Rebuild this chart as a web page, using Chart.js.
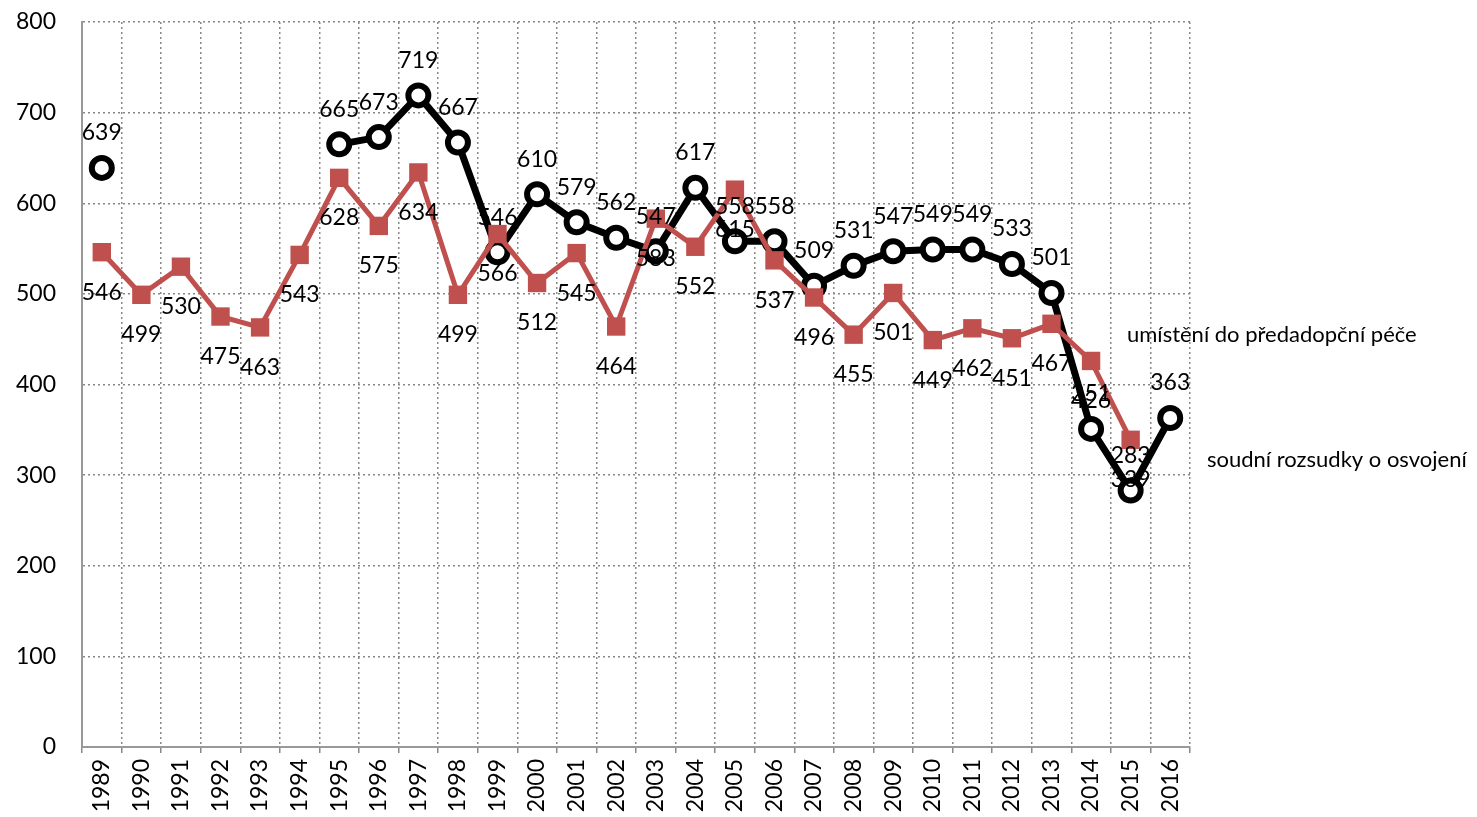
<!DOCTYPE html>
<html>
<head>
<meta charset="utf-8">
<script src="https://cdn.jsdelivr.net/npm/chart.js@4.4.0/dist/chart.umd.min.js"></script>
<style>
  html, body { margin: 0; padding: 0; background: #fff; }
  #wrap { width: 1477px; height: 817px; }
</style>
</head>
<body>
<div id="wrap"><canvas id="lineChart"></canvas></div>
<script>
const years = ['1989', '1990', '1991', '1992', '1993', '1994', '1995', '1996', '1997', '1998', '1999', '2000', '2001', '2002',
  '2003', '2004', '2005', '2006', '2007', '2008', '2009', '2010', '2011', '2012', '2013', '2014', '2015', '2016'];

// soudní rozsudky o osvojení (černá)
const rozsudky = [639, null, null, null, null, null, 665, 673, 719, 667, 546, 610, 579, 562,
  547, 617, 558, 558, 509, 531, 547, 549, 549, 533, 501, 351, 283, 363];

// umístění do předadopční péče (červená)
const umisteni = [546, 499, 530, 475, 463, 543, 628, 575, 634, 499, 566, 512, 545, 464,
  583, 552, 615, 537, 496, 455, 501, 449, 462, 451, 467, 426, 339, null];

const yTicks = [0, 100, 200, 300, 400, 500, 600, 700, 800];

const fontFamily = "'Lato', 'Open Sans', sans-serif";

// popisky hodnot + názvy řad
const labelsPlugin = {
  id: 'hodnoty',
  afterDatasetsDraw(chart) {
    const c = chart.ctx;
    c.save();
    c.font = '23px ' + fontFamily;
    c.fillStyle = '#000';
    c.textAlign = 'center';
    c.textBaseline = 'middle';
    chart.data.datasets.forEach((ds, i) => {
      const meta = chart.getDatasetMeta(i);
      meta.data.forEach((pt, j) => {
        const v = ds.data[j];
        if (v === null) return;
        const dy = ds.labelPos === 'above' ? -35 : 40;
        c.fillText(v, pt.x, pt.y + dy);
      });
    });
    c.textAlign = 'left';
    c.font = '22px ' + fontFamily;
    c.fillText('umístění do předadopční péče', 1127, 335);
    c.fillText('soudní rozsudky o osvojení', 1207, 460);
    c.restore();
  }
};

const ctx = document.getElementById('lineChart');

new Chart(ctx, {
  type: 'line',
  data: {
    labels: years,
    datasets: [{
      label: 'umístění do předadopční péče',
      data: umisteni,
      labelPos: 'below',
      borderColor: '#C0504D',
      backgroundColor: '#C0504D',
      borderWidth: 5,
      pointStyle: 'rect',
      pointRadius: 13,
      pointBorderWidth: 0,
      pointBackgroundColor: '#C0504D',
      tension: 0,
      spanGaps: false
    }, {
      label: 'soudní rozsudky o osvojení',
      data: rozsudky,
      labelPos: 'above',
      borderColor: '#000',
      backgroundColor: '#fff',
      borderWidth: 7,
      pointStyle: 'circle',
      pointRadius: 10,
      pointBorderWidth: 6,
      pointBackgroundColor: '#fff',
      pointBorderColor: '#000',
      tension: 0,
      spanGaps: false
    }]
  },
  options: {
    responsive: true,
    maintainAspectRatio: false,
    animation: false,
    layout: { padding: { top: 22, right: 287, left: 0, bottom: 0 } },
    plugins: {
      legend: { display: false },
      tooltip: { enabled: false }
    },
    scales: {
      x: {
        offset: true,
        afterFit: s => {
          s.height = 70;
          s.paddingLeft = 0; s.paddingRight = 0; s.paddingTop = 0; s.paddingBottom = 0;
        },
        grid: {
          offset: true,
          color: '#888',
          lineWidth: 1.5,
          tickLength: 6
        },
        border: { display: true, color: '#999', width: 2, dash: [2, 3] },
        ticks: {
          color: '#000',
          font: { family: fontFamily, size: 23 },
          maxRotation: 90,
          minRotation: 90,
          autoSkip: false,
          padding: 6
        }
      },
      y: {
        min: 0,
        max: 800,
        afterFit: s => {
          s.width = 82;
          s.paddingLeft = 0; s.paddingRight = 0; s.paddingTop = 0; s.paddingBottom = 0;
        },
        afterBuildTicks: s => { s.ticks = yTicks.map(v => ({ value: v })); },
        grid: { color: '#888', lineWidth: 1.5, drawTicks: false },
        border: { display: true, color: '#999', width: 2, dash: [2, 3] },
        ticks: {
          color: '#000',
          font: { family: fontFamily, size: 23 },
          padding: 26
        }
      }
    }
  },
  plugins: [labelsPlugin]
});
</script>
</body>
</html>
